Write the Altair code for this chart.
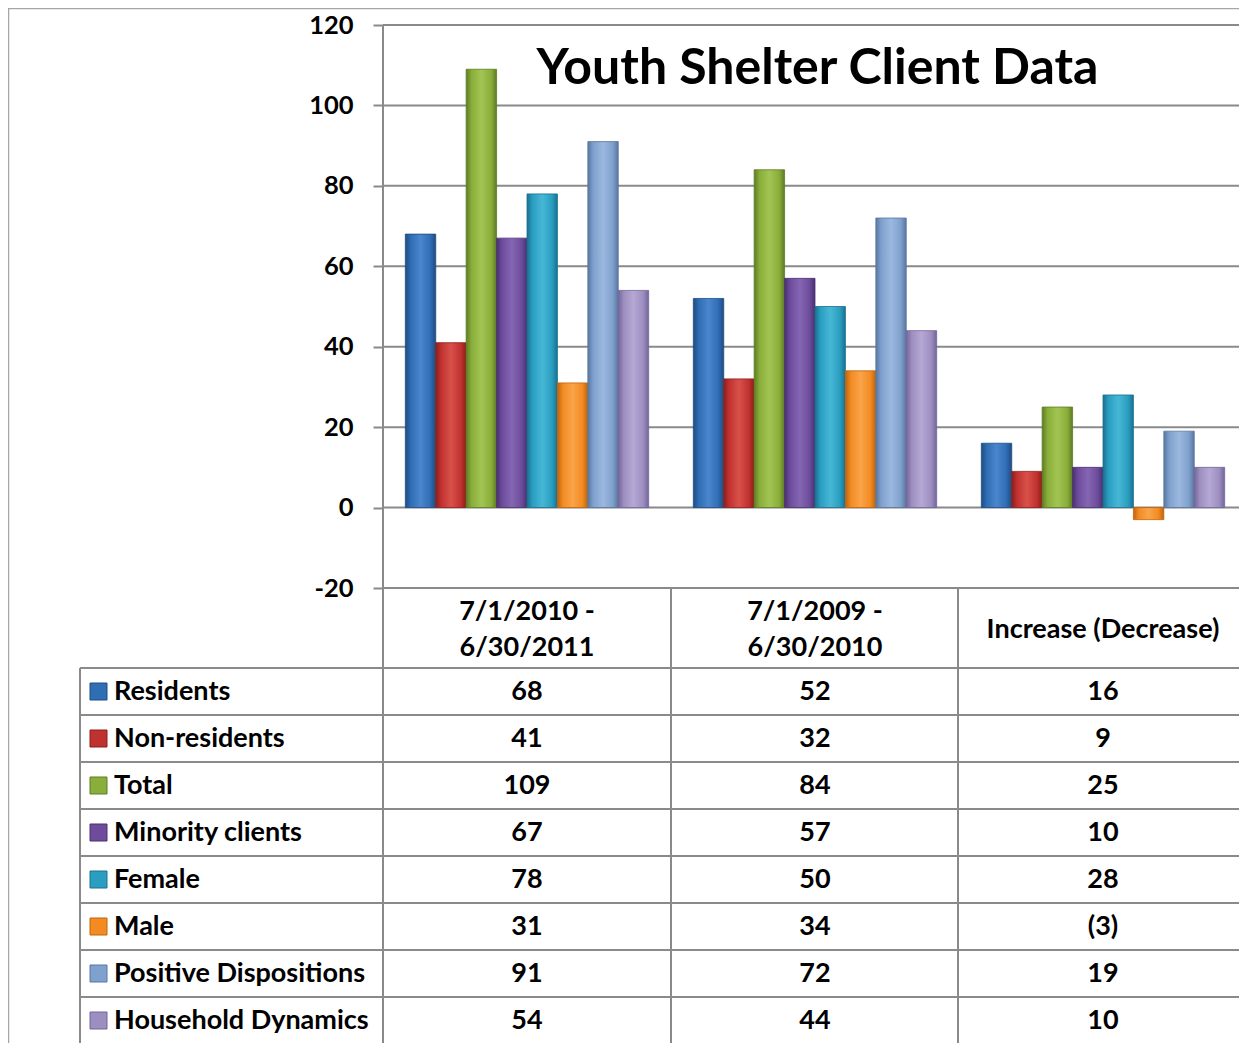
import altair as alt
import pandas as pd

# ---------------- data ----------------
categories = ["7/1/2010 -\n6/30/2011", "7/1/2009 -\n6/30/2010", "Increase (Decrease)"]
series = ["Residents", "Non-residents", "Total", "Minority clients", "Female", "Male",
          "Positive Dispositions", "Household Dynamics"]
period_2010_2011 = [68, 41, 109, 67, 78, 31, 91, 54]
period_2009_2010 = [52, 32, 84, 57, 50, 34, 72, 44]
increase_decrease = [16, 9, 25, 10, 28, -3, 19, 10]
y_ticks = [-20, 0, 20, 40, 60, 80, 100, 120]
title_text = "Youth Shelter Client Data"

# ---------------- style ----------------
colors = ["#2F6DB5", "#C0322F", "#8AAE3A", "#6D4C9C", "#2A9EC0", "#F38B22", "#80A0CD", "#9D8EC0"]
darks = ["#1E4C82", "#8C1F1C", "#5E7C22", "#4A306F", "#1A7090", "#BF640E", "#58769F", "#73659A"]
lights = ["#4A86CC", "#D9504B", "#A2C453", "#8566B3", "#47B7D6", "#F9A44A", "#9BB8DE", "#B6A8D4"]
GRID = "#8A8A8A"
FONT = "Lato"
TFS = 27  # table font size

W, H = 1231, 1035

rows = []
for cat, vals in zip(categories, [period_2010_2011, period_2009_2010, increase_decrease]):
    for s, v in zip(series, vals):
        rows.append({"category": cat, "series": s, "value": v,
                     "label": f"({abs(v)})" if v < 0 else str(v)})
df = pd.DataFrame(rows)
series_df = pd.DataFrame({"series": series})
one = pd.DataFrame({"k": [0]})

# ---------------- shared encodings ----------------
x_axis = alt.Axis(orient="bottom", offset=580 - H, domain=False, ticks=False, tickSize=0,
                  grid=False, labelAngle=0, labelFont=FONT, labelFontSize=TFS,
                  labelFontWeight="bold", labelColor="black",
                  labelPadding={"condition": {"test": "indexof(datum.value, '\\n') < 0",
                                              "value": 41},
                                "value": 23},
                  labelBaseline="middle", labelLineHeight=36, labelLimit=500,
                  labelOverlap=False, labelExpr="split(datum.label, '\\n')", title=None)
x_enc = alt.X("category:N", sort=categories,
              scale=alt.Scale(domain=categories, range=[375, 1239], paddingInner=0.155,
                              paddingOuter=0.0775),
              axis=x_axis)

y_axis = alt.Axis(orient="left", offset=-375, values=y_ticks, domain=False, grid=False,
                  ticks=True, tickSize=10, tickColor=GRID, tickWidth=2, labelFont=FONT,
                  labelFontSize=25.5, labelFontWeight="bold", labelColor="black",
                  labelPadding=20, labelExpr="'' + datum.value", title=None)
y_scale = alt.Scale(domain=[-20, 120], range=[580, 17], nice=False, zero=False)

xo_enc = alt.XOffset("series:N", sort=series,
                     scale=alt.Scale(domain=series, paddingInner=0, paddingOuter=0))

# ---------------- chart area ----------------
grid = alt.Chart(pd.DataFrame({"tick": y_ticks})).mark_rule(color=GRID, strokeWidth=2).encode(
    y=alt.Y("tick:Q", scale=y_scale, axis=y_axis),
    x=alt.value(375), x2=alt.value(1239))

bar_layers = []
for s, c, d, l in zip(series, colors, darks, lights):
    grad = alt.LinearGradient(
        gradient="linear", x1=0, x2=1, y1=0, y2=0,
        stops=[alt.GradientStop(color=d, offset=0),
               alt.GradientStop(color=c, offset=0.18),
               alt.GradientStop(color=l, offset=0.5),
               alt.GradientStop(color=c, offset=0.82),
               alt.GradientStop(color=d, offset=1)])
    bar_layers.append(
        alt.Chart(df).transform_filter(alt.datum.series == s)
        .mark_bar(color=grad, stroke=d, strokeWidth=1, strokeOpacity=0.8)
        .encode(x=x_enc, xOffset=xo_enc,
                y=alt.Y("value:Q", scale=y_scale, axis=y_axis)))

bars_group = alt.layer(grid, *bar_layers)

# ---------------- data table ----------------
row_scale = alt.Scale(domain=series, range=[660, 1036], paddingInner=0, paddingOuter=0)
y_row = alt.Y("series:N", sort=series, scale=row_scale, axis=None)

hlines = alt.Chart(series_df).mark_rule(color=GRID, strokeWidth=2).encode(
    y=alt.Y("series:N", sort=series, scale=row_scale, axis=None, bandPosition=0),
    x=alt.value(72), x2=alt.value(1239))

vlines = [
    alt.Chart(one).mark_rule(color=GRID, strokeWidth=2).encode(
        x=alt.value(xv), y=alt.value(y1), y2=alt.value(H))
    for xv, y1 in [(72, 660), (375, 17), (663, 580), (950, 580)]
]
frame = [
    alt.Chart(one).mark_rule(color="#A6A6A6", strokeWidth=1.5).encode(
        x=alt.value(0.5), y=alt.value(0), y2=alt.value(H)),
    alt.Chart(one).mark_rule(color="#A6A6A6", strokeWidth=1.5).encode(
        x=alt.value(0), x2=alt.value(W), y=alt.value(0.5)),
]

values_text = alt.Chart(df).mark_text(font=FONT, fontSize=TFS, fontWeight="bold",
                                      color="black", baseline="middle").encode(
    x=x_enc, y=y_row, text="label:N")

label_text = alt.Chart(series_df).mark_text(font=FONT, fontSize=TFS, fontWeight="bold",
                                            color="black", align="left",
                                            baseline="middle").encode(
    y=y_row, x=alt.value(106), text="series:N")

squares = alt.Chart(series_df).mark_point(shape="square", filled=True, size=289,
                                          opacity=1, strokeWidth=1).encode(
    y=y_row, x=alt.value(90.5),
    color=alt.Color("series:N", scale=alt.Scale(domain=series, range=colors), legend=None),
    stroke=alt.Stroke("series:N", scale=alt.Scale(domain=series, range=darks), legend=None))

table_group = alt.layer(hlines, *vlines, *frame, values_text, label_text, squares)

chart = alt.layer(bars_group, table_group).resolve_scale(y="independent").properties(
    width=W, height=H, padding=0,
    autosize=alt.AutoSizeParams(type="none"),
    title=alt.TitleParams(title_text, font=FONT, fontSize=50, fontWeight="bold",
                          color="black", anchor="middle", frame="group",
                          baseline="alphabetic", offset=0, dx=194, dy=127),
).configure_view(stroke=None).configure(background="white")

chart.save("out.html", embed_options={"renderer": "svg", "actions": False})
